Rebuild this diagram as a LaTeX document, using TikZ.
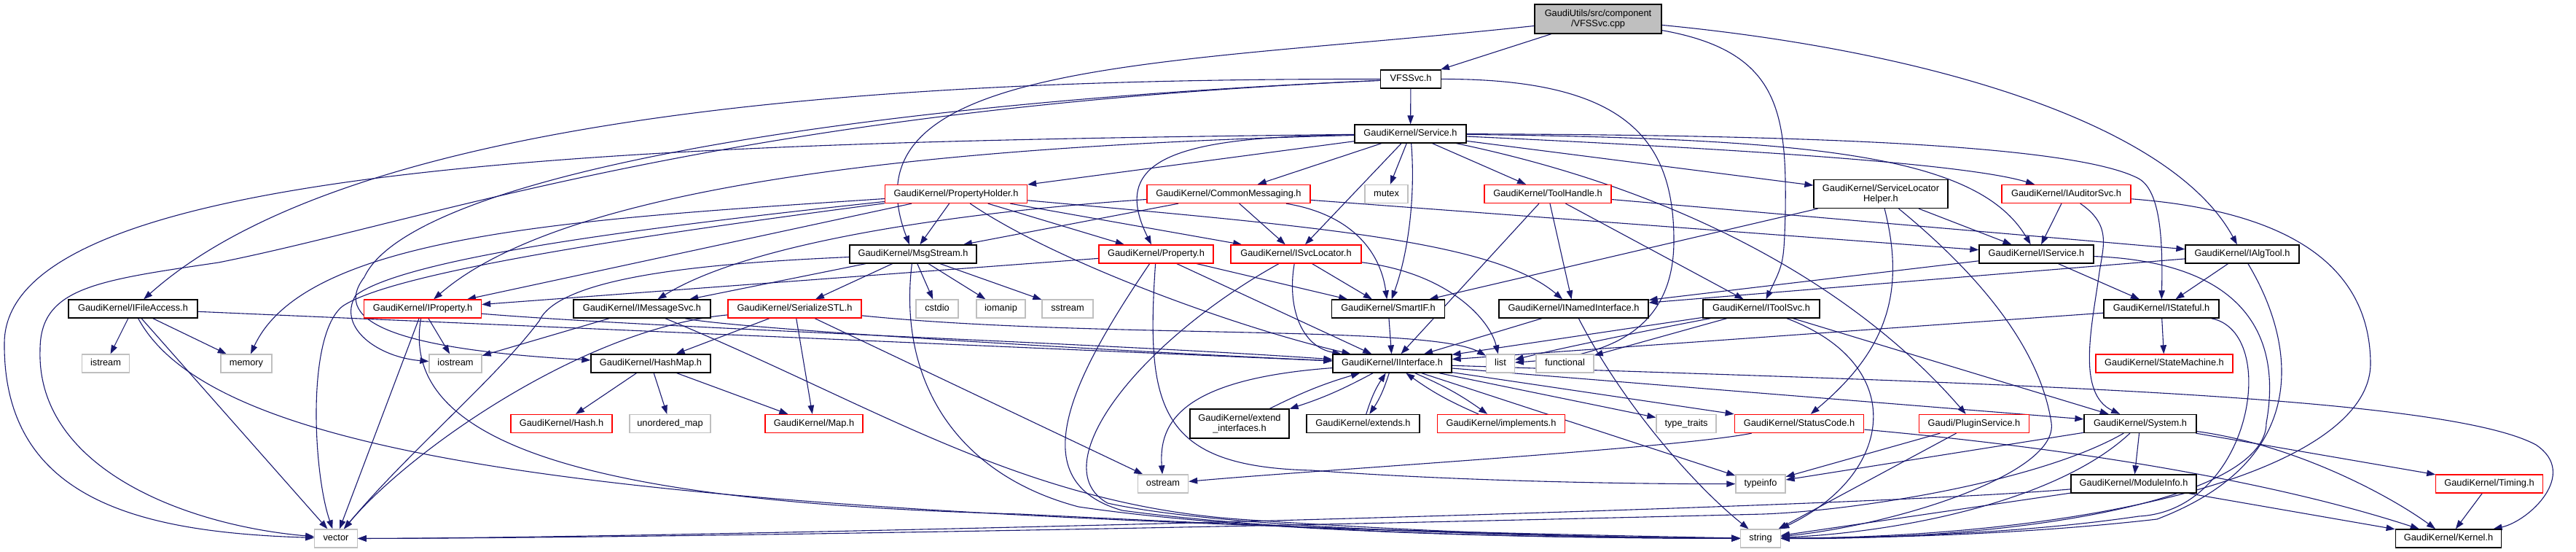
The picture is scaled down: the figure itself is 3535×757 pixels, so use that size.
\documentclass[tikz,border=0pt]{standalone}
\usepackage{fontspec}
\setmainfont{Liberation Sans}
\usetikzlibrary{arrows.meta}
\definecolor{eblue}{HTML}{191970}
\definecolor{redc}{HTML}{FF0000}
\definecolor{grayc}{HTML}{BFBFBF}
\pgfdeclarelayer{bg}
\pgfsetlayers{bg,main}
\tikzset{
  nbase/.style={rectangle, draw, fill=white, inner sep=0pt, line width=1.3bp, minimum height=25bp,
    font=\fontsize{12.8bp}{14.5bp}\selectfont, text height=9.2bp, text depth=2.7bp},
  blkbox/.style={nbase, draw=black},
  redbox/.style={nbase, draw=redc},
  graybox/.style={nbase, draw=grayc},
  twobox/.style={rectangle, draw=black, fill=white, inner sep=0pt, line width=1.3bp, minimum height=40bp,
    font=\fontsize{12.8bp}{14.5bp}\selectfont, align=center},
  rootbox/.style={twobox, fill=grayc},
  edg/.style={draw=eblue, line width=1.1bp, -{Triangle[length=12bp,width=8.5bp]}},
}
\begin{document}
\begin{tikzpicture}[x=1bp,y=-1bp]
\useasboundingbox (0,0) rectangle (3535,757);
% ---------- nodes ----------
\node[rootbox, minimum width=174bp] (cpp) at (2193,26) {GaudiUtils/src/component\\/VFSSvc.cpp};
\node[blkbox, minimum width=83bp] (vfsh) at (1936,108.5) {VFSSvc.h};
\node[blkbox, minimum width=153bp] (svc) at (1935.5,183.5) {GaudiKernel/Service.h};
\node[redbox, minimum width=195bp] (ph) at (1312,266) {GaudiKernel/PropertyHolder.h};
\node[redbox, minimum width=224bp] (cm) at (1686,266) {GaudiKernel/CommonMessaging.h};
\node[graybox, minimum width=59bp] (mutex) at (1902.5,266) {mutex};
\node[redbox, minimum width=174bp] (th) at (2124,266) {GaudiKernel/ToolHandle.h};
\node[twobox, minimum width=184bp, minimum height=39bp] (slh) at (2581,266) {GaudiKernel/ServiceLocator\\Helper.h};
\node[redbox, minimum width=177bp] (ias) at (2835.5,266) {GaudiKernel/IAuditorSvc.h};
\node[blkbox, minimum width=174bp] (ms) at (1253,348.5) {GaudiKernel/MsgStream.h};
\node[redbox, minimum width=157bp] (prop) at (1586.5,348.5) {GaudiKernel/Property.h};
\node[redbox, minimum width=179bp] (isl) at (1778.5,348.5) {GaudiKernel/ISvcLocator.h};
\node[blkbox, minimum width=157bp] (isv) at (2794.5,348.5) {GaudiKernel/IService.h};
\node[blkbox, minimum width=156bp] (iat) at (3077,348.5) {GaudiKernel/IAlgTool.h};
\node[blkbox, minimum width=177bp] (ifa) at (182.5,423.5) {GaudiKernel/IFileAccess.h};
\node[redbox, minimum width=161bp] (ipr) at (580,423.5) {GaudiKernel/IProperty.h};
\node[blkbox, minimum width=188bp] (ims) at (881,423.5) {GaudiKernel/IMessageSvc.h};
\node[redbox, minimum width=183bp] (sstl) at (1090.5,423.5) {GaudiKernel/SerializeSTL.h};
\node[graybox, minimum width=58bp] (cstdio) at (1286,423.5) {cstdio};
\node[graybox, minimum width=67bp] (iomanip) at (1373.5,423.5) {iomanip};
\node[graybox, minimum width=70bp] (sstream) at (1465,423.5) {sstream};
\node[blkbox, minimum width=155bp] (sif) at (1905,423.5) {GaudiKernel/SmartIF.h};
\node[blkbox, minimum width=205bp] (ini) at (2159.5,423.5) {GaudiKernel/INamedInterface.h};
\node[blkbox, minimum width=160bp] (its) at (2417,423.5) {GaudiKernel/IToolSvc.h};
\node[blkbox, minimum width=158bp] (ist) at (2966,423.5) {GaudiKernel/IStateful.h};
\node[graybox, minimum width=65.5bp] (istream) at (145,498.5) {istream};
\node[graybox, minimum width=70bp] (memory) at (338,498.5) {memory};
\node[graybox, minimum width=72bp] (iostream) at (625,498.5) {iostream};
\node[blkbox, minimum width=164bp] (hm) at (893,498.5) {GaudiKernel/HashMap.h};
\node[blkbox, minimum width=163bp] (iif) at (1910.5,498.5) {GaudiKernel/IInterface.h};
\node[graybox, minimum width=38.5bp] (list) at (2059,498.5) {list};
\node[graybox, minimum width=79bp] (functional) at (2147.5,498.5) {functional};
\node[redbox, minimum width=188bp] (stm) at (2970,498.5) {GaudiKernel/StateMachine.h};
\node[redbox, minimum width=139bp] (hash) at (770.5,581) {GaudiKernel/Hash.h};
\node[graybox, minimum width=111bp] (umap) at (919.5,581) {unordered\_map};
\node[redbox, minimum width=134bp] (map) at (1117,581) {GaudiKernel/Map.h};
\node[twobox, minimum width=136bp] (exi) at (1701,581) {GaudiKernel/extend\\\_interfaces.h};
\node[blkbox, minimum width=155bp] (ext) at (1870.5,581) {GaudiKernel/extends.h};
\node[redbox, minimum width=175bp] (imp) at (2060,581) {GaudiKernel/implements.h};
\node[graybox, minimum width=82bp] (tt) at (2314,581) {type\_traits};
\node[redbox, minimum width=177.5bp] (sc) at (2469,581) {GaudiKernel/StatusCode.h};
\node[redbox, minimum width=151bp] (ps) at (2709,581) {Gaudi/PluginService.h};
\node[blkbox, minimum width=154bp] (sys) at (2937,581) {GaudiKernel/System.h};
\node[graybox, minimum width=69bp] (ostream) at (1596,663.5) {ostream};
\node[graybox, minimum width=68bp] (typeinfo) at (2416,663.5) {typeinfo};
\node[blkbox, minimum width=172bp] (mi) at (2928,663.5) {GaudiKernel/ModuleInfo.h};
\node[redbox, minimum width=146.5bp] (tim) at (3416,663.5) {GaudiKernel/Timing.h};
\node[graybox, minimum width=58.5bp] (vector) at (461,738.5) {vector};
\node[graybox, minimum width=54.5bp] (string) at (2416,738.5) {string};
\node[blkbox, minimum width=145.5bp] (ker) at (3360,738.5) {GaudiKernel/Kernel.h};
% ---------- edges ----------
\begin{pgfonlayer}{bg}
% cpp
\draw[edg] (cpp) -- (vfsh);
\draw[edg] (cpp) .. controls (1600,90) and (1150,80) .. (ms);
\draw[edg] (cpp) .. controls (2440,70) and (2452,150) .. (2450,290) .. controls (2448,360) .. (its);
\draw[edg] (cpp) .. controls (2650,70) and (2980,170) .. (iat);
% VFSSvc.h
\draw[edg] (vfsh) -- (svc);
\draw[edg] (vfsh) .. controls (1300,108) and (500,140) .. (ifa);
\draw[edg] (vfsh) .. controls (1100,145) and (560,250) .. (500,380) .. controls (450,445) and (560,480) .. (hm);
\draw[edg] (vfsh) .. controls (1000,150) and (600,300) .. (300,360) .. controls (130,385) and (55,395) .. (55,480) .. controls (50,640) and (250,720) .. (vector);
\draw[edg] (vfsh) .. controls (2230,108) and (2297,190) .. (2297,330) .. controls (2297,470) and (2180,490) .. (list);
% Service.h
\draw[edg] (svc) -- (ph);
\draw[edg] (svc) -- (cm);
\draw[edg] (svc) .. controls (1620,188) and (1520,215) .. (prop);
\draw[edg] (svc) -- (isl);
\draw[edg] (svc) .. controls (1300,200) and (780,250) .. (ipr);
\draw[edg] (svc) .. controls (900,195) and (8,220) .. (6,470) .. controls (4,690) and (200,730) .. (vector);
\draw[edg] (svc) -- (mutex);
\draw[edg] (svc) .. controls (1942,260) and (1935,340) .. (sif);
\draw[edg] (svc) -- (th);
\draw[edg] (svc) -- (slh);
\draw[edg] (svc) .. controls (2400,205) and (2700,225) .. (ias);
\draw[edg] (svc) .. controls (2500,190) and (2715,215) .. (isv);
\draw[edg] (svc) .. controls (2500,185) and (2850,200) .. (2935,245) .. controls (2965,262) and (2968,330) .. (ist);
\draw[edg] (svc) .. controls (2350,270) and (2570,420) .. (ps);
% PropertyHolder.h
\draw[edg] (ph) -- (ms);
\draw[edg] (ph) -- (prop);
\draw[edg] (ph) -- (isl);
\draw[edg] (ph) -- (ipr);
\draw[edg] (ph) .. controls (900,320) and (540,372) .. (470,420) .. controls (420,460) and (430,650) .. (vector);
\draw[edg] (ph) .. controls (800,300) and (420,320) .. (memory);
\draw[edg] (ph) .. controls (900,310) and (560,352) .. (488,405) .. controls (462,450) and (520,490) .. (iostream);
\draw[edg] (ph) .. controls (1450,360) and (1700,450) .. (iif);
\draw[edg] (ph) .. controls (1800,310) and (2050,330) .. (ini);
% CommonMessaging.h
\draw[edg] (cm) -- (ms);
\draw[edg] (cm) -- (isl);
\draw[edg] (cm) .. controls (1400,285) and (1050,320) .. (ims);
\draw[edg] (cm) -- (isv);
\draw[edg] (cm) .. controls (1860,295) and (1895,350) .. (sif);
% ToolHandle.h
\draw[edg] (th) -- (iat);
\draw[edg] (th) -- (ini);
\draw[edg] (th) -- (its);
\draw[edg] (th) -- (iif);
% ServiceLocatorHelper.h
\draw[edg] (slh) -- (sif);
\draw[edg] (slh) .. controls (2615,400) and (2590,480) .. (sc);
\draw[edg] (slh) .. controls (2720,380) and (2800,480) .. (2815,580) .. controls (2825,650) and (2600,720) .. (string);
\draw[edg] (slh) -- (isv);
% IAuditorSvc.h
\draw[edg] (ias) -- (isv);
\draw[edg] (ias) .. controls (2900,310) and (2885,340) .. (2880,380) .. controls (2870,450) and (2850,540) .. (sys);
\draw[edg] (ias) .. controls (3150,290) and (3253,370) .. (3253,500) .. controls (3250,640) and (2900,735) .. (string);
% IService.h
\draw[edg] (isv) -- (ini);
\draw[edg] (isv) -- (ist);
\draw[edg] (isv) .. controls (3090,360) and (3130,470) .. (3110,580) .. controls (3110,680) and (2800,740) .. (string);
% IAlgTool.h
\draw[edg] (iat) -- (ini);
\draw[edg] (iat) -- (ist);
\draw[edg] (iat) .. controls (3150,470) and (3175,630) .. (2960,712) .. controls (2760,735) and (2550,738) .. (string);
% ISvcLocator.h
\draw[edg] (isl) -- (sif);
\draw[edg] (isl) .. controls (1766,420) and (1785,475) .. (iif);
\draw[edg] (isl) .. controls (1990,375) and (2045,440) .. (list);
\draw[edg] (isl) .. controls (1560,470) and (1430,640) .. (1520,690) .. controls (1700,730) and (2200,737) .. (string);
% MsgStream.h
\draw[edg] (ms) -- (ims);
\draw[edg] (ms) -- (sstl);
\draw[edg] (ms) -- (cstdio);
\draw[edg] (ms) -- (iomanip);
\draw[edg] (ms) -- (sstream);
\draw[edg] (ms) .. controls (1232,520) and (1310,650) .. (1480,695) .. controls (1750,735) and (2200,738) .. (string);
\draw[edg] (ms) .. controls (1000,360) and (770,375) .. (740,440) .. controls (680,520) and (560,620) .. (vector);
% Property.h
\draw[edg] (prop) -- (ipr);
\draw[edg] (prop) .. controls (1470,520) and (1400,660) .. (1540,700) .. controls (1800,735) and (2200,738) .. (string);
\draw[edg] (prop) .. controls (1572,560) and (1590,640) .. (1800,645) .. controls (2000,660) and (2250,664) .. (typeinfo);
\draw[edg] (prop) -- (sif);
\draw[edg] (prop) -- (iif);
% IProperty.h
\draw[edg] (ipr) .. controls (900,450) and (1500,470) .. (iif);
\draw[edg] (ipr) -- (vector);
\draw[edg] (ipr) -- (iostream);
\draw[edg] (ipr) .. controls (545,620) and (850,690) .. (1400,705) .. controls (1900,730) and (2200,737) .. (string);
% IMessageSvc.h
\draw[edg] (ims) -- (iostream);
\draw[edg] (ims) .. controls (1000,450) and (1500,480) .. (iif);
\draw[edg] (ims) .. controls (1200,555) and (1400,690) .. (1700,712) .. controls (2000,733) and (2250,738) .. (string);
% IFileAccess.h
\draw[edg] (ifa) -- (istream);
\draw[edg] (ifa) -- (memory);
\draw[edg] (ifa) -- (vector);
\draw[edg] (ifa) -- (iif);
\draw[edg] (ifa) .. controls (300,640) and (900,710) .. (string);
% SerializeSTL.h
\draw[edg] (sstl) -- (hm);
\draw[edg] (sstl) -- (map);
\draw[edg] (sstl) .. controls (800,450) and (560,620) .. (vector);
\draw[edg] (sstl) .. controls (1500,465) and (1960,445) .. (list);
\draw[edg] (sstl) -- (ostream);
% HashMap.h
\draw[edg] (hm) -- (hash);
\draw[edg] (hm) -- (umap);
\draw[edg] (hm) -- (map);
% SmartIF, INamedInterface, IToolSvc, IStateful
\draw[edg] (sif) -- (iif);
\draw[edg] (ini) -- (iif);
\draw[edg] (ini) .. controls (2230,560) and (2330,670) .. (string);
\draw[edg] (its) -- (iif);
\draw[edg] (its) .. controls (2250,455) and (2130,480) .. (list);
\draw[edg] (its) -- (functional);
\draw[edg] (its) .. controls (2620,500) and (2600,650) .. (string);
\draw[edg] (its) -- (sys);
\draw[edg] (ist) -- (iif);
\draw[edg] (ist) -- (stm);
\draw[edg] (ist) .. controls (3130,455) and (3090,700) .. (2935,708) .. controls (2750,735) and (2550,737) .. (string);
% IInterface.h
\draw[edg] (iif) to[bend left=5] (exi);
\draw[edg] (exi) to[bend left=5] (iif);
\draw[edg] (iif) to[bend left=8] (ext);
\draw[edg] (ext) to[bend left=8] (iif);
\draw[edg] (iif) to[bend left=6] (imp);
\draw[edg] (imp) to[bend left=6] (iif);
\draw[edg] (iif) .. controls (1620,520) and (1590,580) .. (ostream);
\draw[edg] (iif) -- (tt);
\draw[edg] (iif) -- (typeinfo);
\draw[edg] (iif) -- (sc);
\draw[edg] (iif) -- (sys);
\draw[edg] (iif) .. controls (2700,525) and (3350,540) .. (3480,610) .. controls (3540,650) and (3470,715) .. (ker);
% StatusCode.h
\draw[edg] (sc) .. controls (2300,615) and (1800,645) .. (ostream);
\draw[edg] (sc) .. controls (2900,620) and (3150,670) .. (ker);
% PluginService.h
\draw[edg] (ps) -- (typeinfo);
\draw[edg] (ps) -- (string);
% System.h
\draw[edg] (sys) -- (typeinfo);
\draw[edg] (sys) .. controls (2800,660) and (2550,700) .. (2420,705) .. controls (1500,728) and (800,738) .. (vector);
\draw[edg] (sys) .. controls (2820,690) and (2600,730) .. (string);
\draw[edg] (sys) -- (mi);
\draw[edg] (sys) -- (tim);
\draw[edg] (sys) .. controls (3150,610) and (3280,680) .. (ker);
% ModuleInfo.h, Timing.h
\draw[edg] (mi) -- (string);
\draw[edg] (mi) .. controls (2500,700) and (900,738) .. (vector);
\draw[edg] (mi) -- (ker);
\draw[edg] (tim) -- (ker);
\end{pgfonlayer}
\end{tikzpicture}
\end{document}
